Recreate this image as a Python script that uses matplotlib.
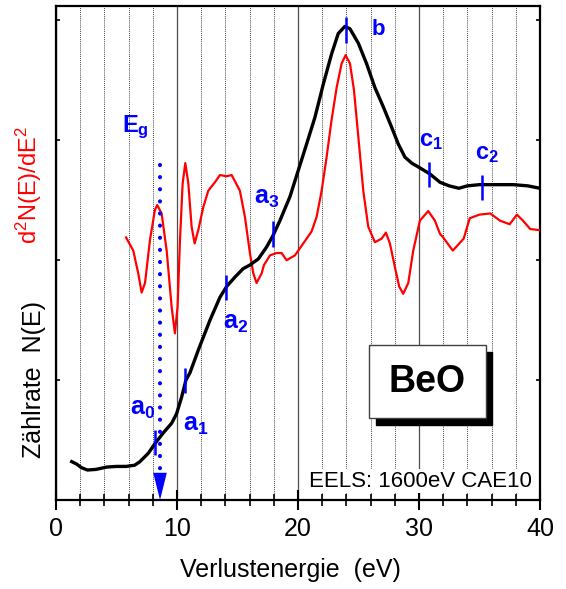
import matplotlib
matplotlib.use('Agg')
import matplotlib.pyplot as plt
from matplotlib.patches import Rectangle
from matplotlib.ticker import MultipleLocator

plt.rcParams['font.family'] = ['Liberation Sans', 'DejaVu Sans']
plt.rcParams['mathtext.fontset'] = 'custom'
plt.rcParams['mathtext.rm'] = 'Liberation Sans'
plt.rcParams['mathtext.bf'] = 'Liberation Sans:bold'
plt.rcParams['mathtext.it'] = 'Liberation Sans:italic'

# black curve: count rate N(E)
energy_n = [1.3, 1.7, 2.1, 2.6, 3.3, 4.2, 5.0, 5.8, 6.5, 6.94, 7.63, 8.18,
            8.87, 9.56, 9.97, 10.39, 10.74, 11.07, 11.8, 12.73, 13.55, 14.1,
            14.8, 15.48, 16.03, 16.72, 17.41, 17.96, 18.51, 19.34, 20.03,
            20.72, 21.4, 22.1, 22.78, 23.33, 23.88, 24.3, 24.99, 25.67, 26.36,
            27.05, 27.74, 28.29, 28.84, 29.4, 30.08, 30.9, 31.74, 32.5, 33.3,
            34.0, 35.0, 36.5, 37.8, 39.0, 40.0]
count_n = [0.32, 0.30, 0.27, 0.25, 0.255, 0.275, 0.28, 0.28, 0.29, 0.32, 0.39,
           0.47, 0.56, 0.64, 0.72, 0.86, 1.00, 1.06, 1.26, 1.50, 1.69, 1.78,
           1.86, 1.93, 1.96, 2.01, 2.11, 2.21, 2.33, 2.53, 2.75, 2.97, 3.19,
           3.47, 3.72, 3.89, 3.95, 3.93, 3.81, 3.64, 3.44, 3.28, 3.11, 2.97,
           2.86, 2.81, 2.77, 2.72, 2.65, 2.62, 2.60, 2.62, 2.63, 2.63, 2.63,
           2.62, 2.60]

# red curve: second derivative d2N/dE2
energy_d = [5.79, 6.39, 6.8, 7.08, 7.36, 7.77, 8.18, 8.37, 8.73, 9.15, 9.56,
            9.83, 10.05, 10.25, 10.47, 10.69, 10.94, 11.21, 11.46, 11.76,
            12.17, 12.59, 13.14, 13.55, 14.1, 14.52, 15.2, 15.62, 16.03, 16.31,
            16.58, 17.0, 17.19, 17.69, 18.24, 18.65, 19.06, 19.75, 20.44,
            21.13, 21.54, 21.96, 22.37, 22.78, 23.2, 23.61, 23.94, 24.3, 24.63,
            24.99, 25.4, 25.81, 26.36, 26.92, 27.27, 27.6, 28.02, 28.37, 28.7,
            29.12, 29.53, 30.08, 30.77, 31.32, 31.74, 32.0, 32.8, 33.7, 34.2,
            35.0, 35.9, 36.7, 37.5, 38.1, 38.6, 39.2, 40.0]
d2n = [2.19, 2.08, 1.89, 1.73, 1.81, 2.17, 2.42, 2.46, 2.39, 2.08, 1.61, 1.39,
       1.61, 2.17, 2.64, 2.81, 2.64, 2.28, 2.14, 2.25, 2.44, 2.58, 2.65, 2.71,
       2.70, 2.71, 2.58, 2.36, 2.06, 1.89, 1.81, 1.89, 1.96, 2.04, 2.06, 2.06,
       2.00, 2.04, 2.14, 2.24, 2.36, 2.58, 2.86, 3.17, 3.44, 3.64, 3.71, 3.64,
       3.42, 3.03, 2.58, 2.28, 2.15, 2.18, 2.23, 2.14, 1.94, 1.78, 1.72, 1.81,
       2.08, 2.33, 2.41, 2.33, 2.22, 2.19, 2.08, 2.18, 2.35, 2.38, 2.39, 2.33,
       2.30, 2.38, 2.33, 2.26, 2.25]

# feature marks
mark_names = ['a_0', 'a_1', 'a_2', 'a_3', 'b', 'c_1', 'c_2']
mark_sizes = [18, 18, 18, 18, 16, 17, 17]
mark_e = [8.2, 10.7, 14.07, 17.9, 24.0, 30.85, 35.2]
mark_lo = [0.375, 0.89, 1.67, 2.11, 3.81, 2.61, 2.50]
mark_hi = [0.58, 1.10, 1.875, 2.33, 4.03, 2.82, 2.71]
label_e = [6.1, 10.47, 13.78, 16.4, 26.0, 30.0, 34.6]
label_y = [0.71, 0.58, 1.43, 2.47, 3.875, 2.95, 2.84]

eg_e = 8.6
eg_top = 2.79
eg_dot_end = 0.22


def main():
  fig = plt.figure(figsize=(5.66, 5.89), dpi=100)
  ax = fig.add_axes([0.0989, 0.1511, 0.855, 0.8387])

  ax.set_xlim(0, 40)
  ax.set_ylim(0, 4.12)

  ax.xaxis.set_major_locator(MultipleLocator(10))
  ax.xaxis.set_minor_locator(MultipleLocator(2))
  ax.yaxis.set_major_locator(MultipleLocator(1))

  ax.grid(which='minor', axis='x', ls=(0, (1, 1.5)), color='k', lw=0.6)
  ax.grid(which='major', axis='x', ls='-', color='0.3', lw=0.9)
  ax.set_axisbelow(True)

  for s in ax.spines.values():
    s.set_linewidth(1.6)

  ax.tick_params(axis='x', which='major', direction='inout', length=14,
                 width=1.5, labelsize=18, pad=5, top=False)
  ax.tick_params(axis='x', which='minor', direction='inout', length=8,
                 width=1.2, top=False)
  ax.tick_params(axis='y', which='major', direction='in', length=3,
                 width=1.2, left=True, right=True, labelleft=False)

  ax.plot(energy_d, d2n, color='red', lw=1.6, zorder=3,
          solid_joinstyle='round')
  ax.plot(energy_n, count_n, color='black', lw=2.4, zorder=4,
          solid_joinstyle='round')

  ax.vlines(mark_e, mark_lo, mark_hi, color='blue', lw=1.8, zorder=5)
  for name, fs, x, y in zip(mark_names, mark_sizes, label_e, label_y):
    ax.text(x, y, r'$\mathbf{' + name + '}$', color='blue', fontsize=fs,
            ha='left', va='baseline', zorder=6)

  # band gap marker
  ax.plot([eg_e, eg_e], [eg_top, eg_dot_end], color='blue', lw=3.0,
          ls=(0, (0.01, 2.9)), dash_capstyle='round', zorder=5)
  ax.annotate('', xy=(eg_e, 0.0), xytext=(eg_e, 0.17),
              arrowprops=dict(arrowstyle='-|>,head_length=1.4,head_width=0.35',
                              color='blue', lw=0, shrinkA=0, shrinkB=0,
                              mutation_scale=14), zorder=6)
  ax.text(5.43, 3.07, r'$\mathbf{E_g}$', color='blue', fontsize=17,
          ha='left', va='baseline', zorder=6)

  # BeO box with shadow
  ax.add_patch(Rectangle((0.661, 0.151), 0.241, 0.149, transform=ax.transAxes,
                         facecolor='black', edgecolor='black', zorder=7))
  ax.add_patch(Rectangle((0.647, 0.165), 0.241, 0.149, transform=ax.transAxes,
                         facecolor='white', edgecolor='0.25', lw=1.0, zorder=8))
  ax.text(0.7675, 0.2395, 'BeO', transform=ax.transAxes, fontsize=27,
          fontweight='bold', ha='center', va='center', zorder=9)

  ax.text(0.983, 0.027, 'EELS: 1600eV CAE10', transform=ax.transAxes,
          fontsize=16, ha='right', va='baseline', zorder=9,
          bbox=dict(facecolor='white', edgecolor='none', pad=1.0))

  ax.set_xlabel('Verlustenergie  (eV)', fontsize=18)
  ax.xaxis.set_label_coords(0.485, -0.118)

  ax.text(-0.045, 0.243, r'Zählrate  N(E)', transform=ax.transAxes,
          fontsize=18, rotation=90, ha='center', va='center')
  ax.text(-0.055, 0.638, r'd$^2$N(E)/dE$^2$', transform=ax.transAxes,
          fontsize=17, rotation=90, ha='center', va='center', color='red')

  fig.savefig('out.png', dpi=100)


if __name__ == "__main__":
  main()
